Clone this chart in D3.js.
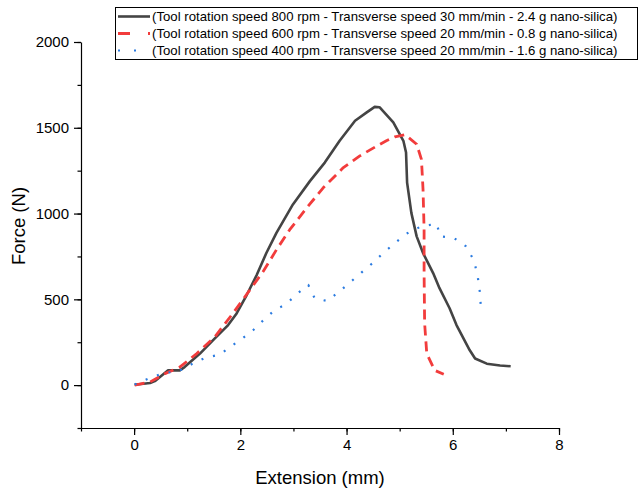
<!DOCTYPE html>
<html>
<head>
<meta charset="utf-8">
<title>Force vs extension</title>
<script src="https://d3js.org/d3.v7.min.js"></script>
<style>
  body { margin: 0; background: #fff; }
  text { font-family: "Liberation Sans", Arial, sans-serif; fill: #000; }
  .tick text { font-size: 15px; }
  .axis-title { font-size: 18.5px; }
  .legend text { font-size: 13.2px; }
</style>
</head>
<body>
<svg width="640" height="491"></svg>
<script>
// series labels
const labels = [
  "(Tool rotation speed 800 rpm - Transverse speed 30 mm/min - 2.4 g nano-silica)",
  "(Tool rotation speed 600 rpm - Transverse speed 20 mm/min - 0.8 g nano-silica)",
  "(Tool rotation speed 400 rpm - Transverse speed 20 mm/min - 1.6 g nano-silica)"
];

// [extension mm, force N]
const s800 = [
  [0.01, 2], [0.30, 12], [0.39, 23], [0.64, 86], [0.86, 86], [0.95, 105], [1.24, 184],
  [1.52, 272], [1.77, 350], [1.93, 418], [2.12, 525], [2.31, 643], [2.49, 770], [2.68, 887],
  [2.99, 1053], [3.31, 1189], [3.59, 1297], [3.87, 1424], [4.16, 1541], [4.38, 1590],
  [4.53, 1622], [4.62, 1620], [4.88, 1531], [5.07, 1424], [5.12, 1356], [5.14, 1180],
  [5.22, 1004], [5.32, 867], [5.44, 770], [5.63, 653], [5.75, 565], [5.94, 448],
  [6.07, 350], [6.32, 203], [6.42, 155], [6.64, 125], [6.89, 114], [7.09, 110]
];
const s600 = [
  [0.01, 0], [0.30, 18], [0.58, 67], [0.86, 105], [1.18, 184], [1.52, 281], [1.86, 418],
  [2.18, 555], [2.43, 662], [2.68, 789], [2.93, 906], [3.25, 1033], [3.56, 1150],
  [3.94, 1268], [4.25, 1336], [4.57, 1394], [4.75, 1424], [4.91, 1447], [5.10, 1460],
  [5.32, 1404], [5.41, 1316], [5.44, 1141], [5.46, 906], [5.46, 653], [5.47, 360],
  [5.51, 184], [5.66, 86], [5.83, 63]
];
const s400 = [
  [0.01, 4], [0.26, 37], [0.55, 70], [0.83, 80], [1.08, 121], [1.33, 158], [1.61, 178],
  [1.83, 227], [2.04, 272], [2.24, 320], [2.45, 383], [2.65, 438], [2.86, 471], [3.06, 530],
  [3.28, 584], [3.40, 506], [3.64, 490], [3.86, 545], [4.07, 600], [4.28, 656], [4.49, 711],
  [4.69, 770], [4.91, 828], [5.13, 883], [5.41, 926], [5.70, 940], [5.76, 867], [6.02, 858],
  [6.25, 809], [6.40, 725], [6.47, 633], [6.51, 541], [6.53, 448]
];

const xTicks = [0, 2, 4, 6, 8];
const yTicks = [0, 500, 1000, 1500, 2000];

const svg = d3.select("svg");
const x = d3.scaleLinear().domain([-1, 8]).range([81, 559]);
const y = d3.scaleLinear().domain([-250, 2000]).range([428, 42]);

// axes: minor ticks first, then major ticks with labels
function drawAxis(axis, transform) {
  const g = svg.append("g").attr("transform", transform).call(axis);
  g.selectAll("path, line").attr("stroke", "#000").attr("stroke-width", 1.2);
  return g;
}
drawAxis(d3.axisBottom(x).tickValues(d3.range(-1, 9, 1)).tickSize(3.5).tickFormat("").tickSizeOuter(0), "translate(0,428)");
drawAxis(d3.axisBottom(x).tickValues(xTicks).tickSize(7).tickPadding(4).tickFormat(d3.format("d")), "translate(0,428)")
  .select(".domain").remove();
drawAxis(d3.axisLeft(y).tickValues(d3.range(-250, 2001, 250)).tickSize(3.5).tickFormat("").tickSizeOuter(0), "translate(81,0)");
drawAxis(d3.axisLeft(y).tickValues(yTicks).tickSize(7).tickPadding(5).tickFormat(d3.format("d")), "translate(81,0)")
  .select(".domain").remove();
svg.selectAll(".tick text").attr("fill", "#000");

svg.append("text").attr("class", "axis-title")
  .attr("x", x(3.5)).attr("y", 484).attr("text-anchor", "middle")
  .text("Extension (mm)");
svg.append("text").attr("class", "axis-title")
  .attr("transform", "translate(25,226) rotate(-90)")
  .attr("text-anchor", "middle").text("Force (N)");

const line = d3.line().x(d => x(d[0])).y(d => y(d[1]));
const styles = [
  { data: s800, color: "#444444", width: 2.6, dash: null, legendDash: null },
  { data: s600, color: "#f23c3c", width: 2.8, dash: "10,6", legendDash: "12,18" },
  { data: s400, color: "#2b7be0", width: 2.2, dash: "2,10", legendDash: "2,14" }
];
styles.forEach(s => {
  svg.append("path").datum(s.data).attr("d", line)
    .attr("fill", "none").attr("stroke", s.color).attr("stroke-width", s.width)
    .attr("stroke-dasharray", s.dash).attr("stroke-linejoin", "round");
});

// legend
const lg = svg.append("g").attr("class", "legend");
lg.append("rect").attr("x", 115.5).attr("y", 7.5).attr("width", 522).attr("height", 52)
  .attr("fill", "#fff").attr("stroke", "#000").attr("stroke-width", 1);
styles.forEach((s, i) => {
  const ly = 16.5 + i * 17;
  lg.append("line").attr("x1", 118).attr("x2", 150).attr("y1", ly).attr("y2", ly)
    .attr("stroke", s.color).attr("stroke-width", s.width)
    .attr("stroke-dasharray", s.legendDash);
  lg.append("text").attr("x", 152).attr("y", ly + 4.5).text(labels[i]);
});
</script>
</body>
</html>
